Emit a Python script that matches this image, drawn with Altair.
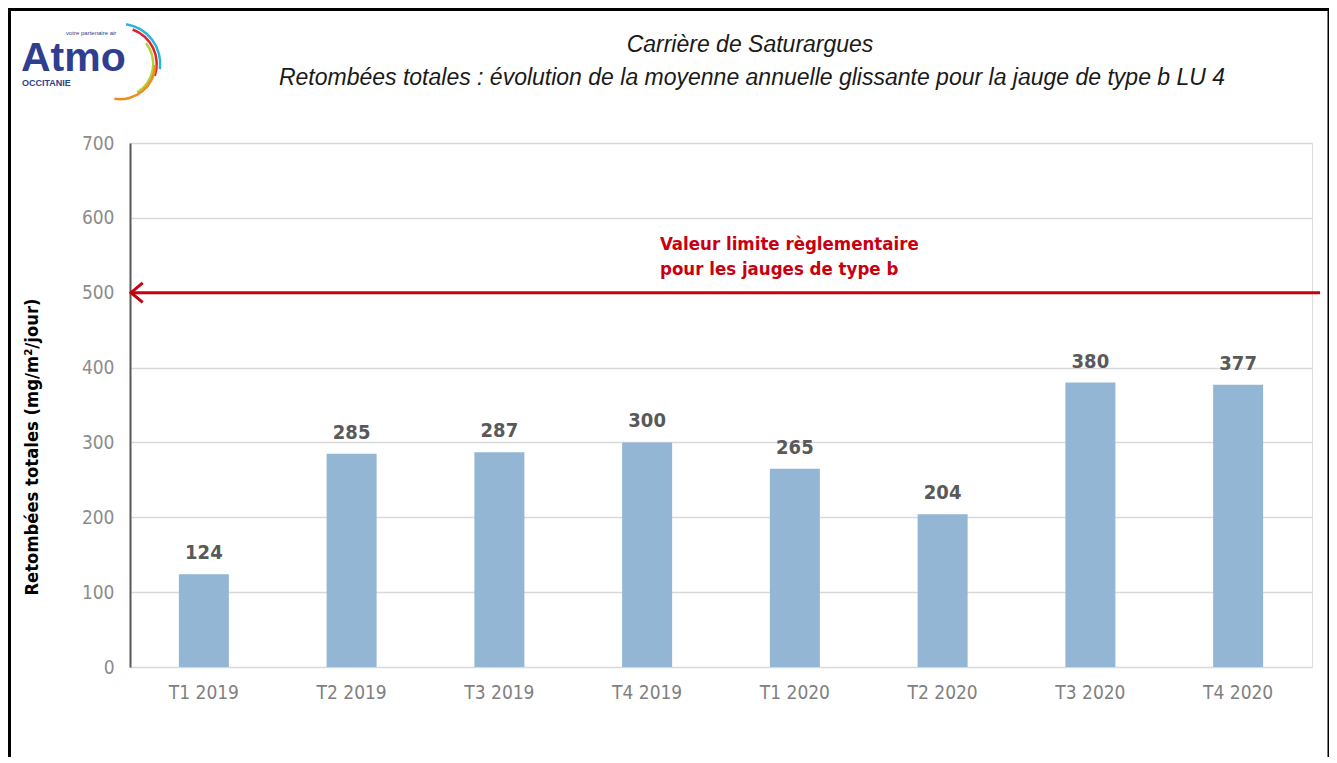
import altair as alt
import pandas as pd

categories = ["T1 2019", "T2 2019", "T3 2019", "T4 2019", "T1 2020", "T2 2020", "T3 2020", "T4 2020"]
values = [124, 285, 287, 300, 265, 204, 380, 377]
y_ticks = [0, 100, 200, 300, 400, 500, 600, 700]
limit_value = 500
title_lines = ["Carrière de Saturargues",
               "Retombées totales : évolution de la moyenne annuelle glissante pour la jauge de type b LU 4"]
y_title = "Retombées totales (mg/m²/jour)"
limit_label = ["Valeur limite règlementaire", "pour les jauges de type b"]

W, H = 1182, 524
NARROW = "'Liberation Sans Narrow', 'DejaVu Sans Condensed', 'Liberation Sans', sans-serif"

df = pd.DataFrame({"cat": categories, "val": values})

x_enc = alt.X("cat:N", sort=categories, title=None,
              scale=alt.Scale(paddingInner=0.0, paddingOuter=0.0),
              axis=alt.Axis(labelAngle=0, labelFontSize=19, labelFont=NARROW, labelColor="#7F7F7F",
                            labelPadding=16, ticks=False, domain=False, grid=False))
y_scale = alt.Scale(domain=[0, 700], nice=False)
y_enc = alt.Y("val:Q", scale=y_scale, title=None,
              axis=alt.Axis(values=y_ticks, labelFontSize=19, labelFont=NARROW, labelColor="#8C8C8C",
                            labelPadding=16, ticks=False, domain=True, domainColor="#595959",
                            domainWidth=2, grid=True, gridColor="#D9D9D9", gridWidth=1.3))

bars = alt.Chart(df).mark_bar(size=50, color="#93B6D5").encode(x=x_enc, y=y_enc)

labels = alt.Chart(df).mark_text(baseline="bottom", dy=-11, fontSize=20, font=NARROW,
                                 fontWeight="bold", color="#595959").encode(
    x=alt.X("cat:N", sort=categories), y=alt.Y("val:Q", scale=y_scale), text="val:Q")

limit_df = pd.DataFrame({"v": [limit_value]})
red = "#C8000F"
limit_line = alt.Chart(limit_df).mark_rule(color=red, strokeWidth=3).encode(
    x=alt.value(2), x2=alt.value(1190), y=alt.Y("v:Q", scale=y_scale))
arrow = alt.Chart(limit_df).mark_point(shape="M 1.2 -1 L 0 0 L 1.2 1", filled=False, size=380,
                                       color=red, strokeWidth=3, opacity=1).encode(
    x=alt.value(1), y=alt.Y("v:Q", scale=y_scale))
limit_text = alt.Chart(pd.DataFrame({"t": [limit_label]})).mark_text(
    align="left", baseline="alphabetic", fontSize=18.5, font=NARROW, fontWeight="bold",
    color=red, lineHeight=25).encode(x=alt.value(530), y=alt.value(107), text="t")

# y axis title
ytitle = alt.Chart(pd.DataFrame({"t": [y_title]})).mark_text(
    angle=270, fontSize=18.3, fontWeight="bold", font=NARROW, color="#000000").encode(
    x=alt.value(-97), y=alt.value(304), text="t")

# titles
t1 = alt.Chart(pd.DataFrame({"t": [title_lines[0]]})).mark_text(
    fontSize=23, fontStyle="italic", font="Liberation Sans", color="#1a1a1a").encode(
    x=alt.value(620), y=alt.value(-98), text="t")
t2 = alt.Chart(pd.DataFrame({"t": [title_lines[1]]})).mark_text(
    fontSize=23, fontStyle="italic", font="Liberation Sans", color="#1a1a1a").encode(
    x=alt.value(622), y=alt.value(-65), text="t")

# frame
frame = alt.Chart(pd.DataFrame({"a": [0]})).mark_rect(fill=None, stroke="#000000", strokeWidth=3).encode(
    x=alt.value(-120.5), x2=alt.value(1199), y=alt.value(-133.5), y2=alt.value(700))

# logo
navy = "#2F3E8E"
logo_atmo = alt.Chart(pd.DataFrame({"t": ["Atmo"]})).mark_text(
    align="left", baseline="alphabetic", fontSize=41, fontWeight="bold", font="Liberation Sans",
    color=navy).encode(x=alt.value(-109), y=alt.value(-72), text="t")
logo_occ = alt.Chart(pd.DataFrame({"t": ["OCCITANIE"]})).mark_text(
    align="left", baseline="alphabetic", fontSize=9, fontWeight="bold", font="Liberation Sans",
    color=navy).encode(x=alt.value(-108), y=alt.value(-57), text="t")
logo_votre = alt.Chart(pd.DataFrame({"t": ["votre partenaire air"]})).mark_text(
    align="left", baseline="alphabetic", fontSize=6, font="Liberation Sans",
    color=navy).encode(x=alt.value(-64), y=alt.value(-108), text="t")

arc_colors = ["#2BB3D9", "#D9262E", "#B7CF3A", "#F08A1E"]
arc_t0 = [0.15, 0.35, 0.9, 1.6]
arc_t1 = [1.7, 1.9, 2.6, 3.3]
arc_r = [39, 35.5, 32, 34]
arc_layers = []
for c, a0, a1, r in zip(arc_colors, arc_t0, arc_t1, arc_r):
    arc_layers.append(alt.Chart(pd.DataFrame({"a": [0]})).mark_arc(
        color=c, radius=r + 2.5, radius2=r, theta=a0, theta2=a1).encode(
        x=alt.value(-10), y=alt.value(-79)))

chart = alt.layer(frame, bars, labels, limit_line, arrow, limit_text, ytitle, t1, t2,
                  logo_atmo, logo_occ, logo_votre, *arc_layers).properties(
    width=W, height=H,
    autosize=alt.AutoSizeParams(type="none"),
    padding={"left": 122, "top": 135, "right": 17, "bottom": 90},
).configure_view(stroke=None).configure(background="white")

chart.save("out.html", embed_options={"renderer": "svg", "actions": False})
